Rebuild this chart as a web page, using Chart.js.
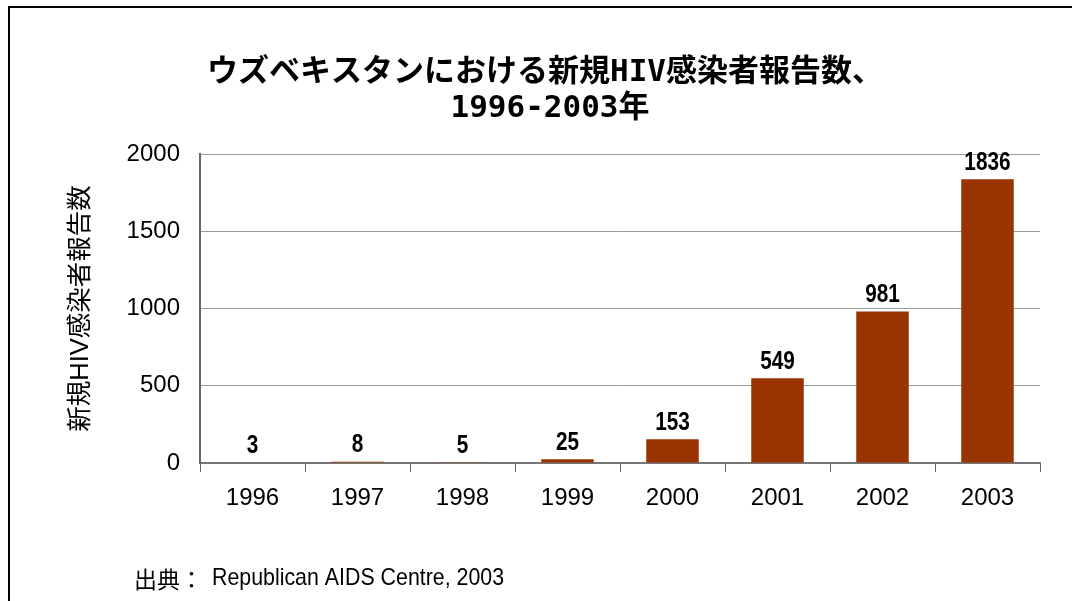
<!DOCTYPE html>
<html>
<head>
<meta charset="utf-8">
<script src="https://cdn.jsdelivr.net/npm/chart.js@4"></script>
<style>
  html, body { margin: 0; padding: 0; background: #fff; }
  #wrap { position: relative; width: 1072px; height: 601px; overflow: hidden; }
  #frame { position: absolute; left: 8px; top: 6px; width: 1080px; height: 620px;
           border-left: 2px solid #000; border-top: 2px solid #000; }
  canvas { position: absolute; left: 0; top: 0; }
</style>
</head>
<body>
<div id="wrap">
  <div id="frame"></div>
  <canvas id="hivChart" width="1072" height="601"></canvas>
</div>
<script>
const years = ['1996', '1997', '1998', '1999', '2000', '2001', '2002', '2003'];
const newCases = [3, 8, 5, 25, 153, 549, 981, 1836];
const titleLines = ['ウズベキスタンにおける新規HIV感染者報告数、', '1996-2003年'];
const yAxisTitle = '新規HIV感染者報告数';
const sourceLabel = '出典：';
const sourceText = 'Republican AIDS Centre, 2003';

const FONT = '"Liberation Sans", Arial, "Noto Sans CJK JP", sans-serif';

// title (gothic, monospaced latin) drawn above the plot
const chartTitle = {
  id: 'chartTitle',
  afterDraw(chart) {
    const ctx = chart.ctx;
    ctx.save();
    ctx.font = 'bold 31px "DejaVu Sans Mono", "Noto Sans CJK JP", sans-serif';
    ctx.fillStyle = '#000';
    ctx.textAlign = 'center';
    ctx.textBaseline = 'middle';
    ctx.fillText(titleLines[0], 545, 73);
    ctx.fillText(titleLines[1], 550, 109);
    ctx.restore();
  }
};

// value labels above each bar (narrow bold)
const valueLabels = {
  id: 'valueLabels',
  afterDatasetsDraw(chart) {
    const ctx = chart.ctx;
    const meta = chart.getDatasetMeta(0);
    ctx.save();
    ctx.font = 'bold 26px "Liberation Sans", Arial, sans-serif';
    ctx.fillStyle = '#000';
    ctx.textAlign = 'center';
    ctx.textBaseline = 'alphabetic';
    meta.data.forEach((bar, i) => {
      ctx.save();
      ctx.translate(bar.x, bar.y - 9.5);
      ctx.scale(0.8, 1);
      ctx.fillText(String(newCases[i]), 0, 0);
      ctx.restore();
    });
    ctx.restore();
  }
};

const sourceNote = {
  id: 'sourceNote',
  afterDraw(chart) {
    const ctx = chart.ctx;
    ctx.save();
    ctx.fillStyle = '#000';
    ctx.textBaseline = 'middle';
    ctx.textAlign = 'left';
    ctx.font = '23px "Noto Sans CJK JP", sans-serif';
    ctx.fillText(sourceLabel, 134, 579);
    ctx.translate(212, 578);
    ctx.scale(0.89, 1);
    ctx.font = '24px "Liberation Sans", Arial, sans-serif';
    ctx.fillText(sourceText, 0, 0);
    ctx.restore();
  }
};

new Chart(document.getElementById('hivChart'), {
  type: 'bar',
  data: {
    labels: years,
    datasets: [{
      data: newCases,
      backgroundColor: '#993300',
      categoryPercentage: 1,
      barPercentage: 0.5,
    }],
  },
  options: {
    responsive: false,
    animation: false,
    layout: { padding: { left: 0, right: 32, top: 154, bottom: 88 } },
    plugins: {
      legend: { display: false },
      tooltip: { enabled: false },
      title: { display: false },
    },
    scales: {
      x: {
        grid: { display: true, drawOnChartArea: false, drawTicks: true, tickLength: 9, color: '#666', offset: true },
        border: { color: '#777', width: 2 },
        ticks: { color: '#000', padding: 12, font: { family: FONT, size: 24 } },
        afterFit(scale) { scale.height = 50; },
      },
      y: {
        min: 0,
        max: 2000,
        ticks: {
          stepSize: 500,
          color: '#000',
          padding: 20,
          font: { family: FONT, size: 24 },
          callback: (v) => String(v),
        },
        grid: { color: '#999', drawTicks: false },
        border: { color: '#666', width: 2 },
        title: {
          display: true,
          text: yAxisTitle,
          color: '#000',
          font: { family: FONT, size: 25.5 },
          padding: { top: 66, bottom: 0 },
        },
        afterFit(scale) { scale.width = 200; },
      },
    },
  },
  plugins: [chartTitle, valueLabels, sourceNote],
});
</script>
</body>
</html>
